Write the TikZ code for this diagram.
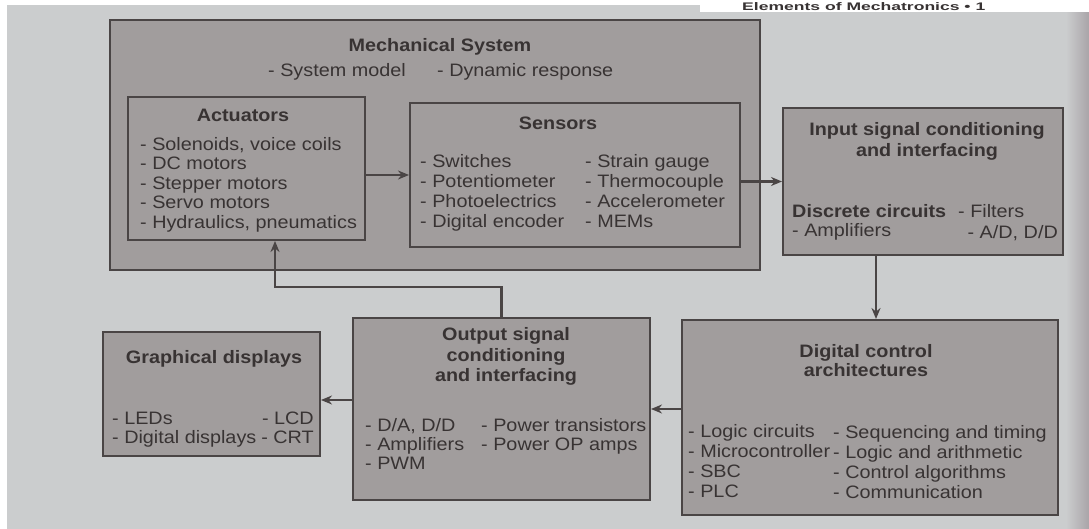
\documentclass[tikz,border=0pt]{standalone}
\usepackage{fontspec}
\setmainfont[FakeStretch=1.1]{Liberation Sans}
\usetikzlibrary{arrows.meta,calc}
\definecolor{paper}{HTML}{CBCDCE}
\definecolor{boxfill}{HTML}{A19D9D}
\definecolor{ink}{HTML}{383333}
\definecolor{edge}{HTML}{4A4545}
\definecolor{shade}{HTML}{A9A4A8}
\begin{document}
\begin{tikzpicture}[x=1pt,y=-1pt,
  panel/.style={draw=edge, line width=2pt, fill=boxfill, inner sep=0pt},
  head/.style={font=\bfseries\fontsize{18}{19.5}\selectfont, text=ink, anchor=base, inner sep=0pt},
  item/.style={font=\fontsize{18}{19.5}\selectfont, text=ink, anchor=base west, inner sep=0pt},
  itemr/.style={item, anchor=base east},
  flow/.style={draw=edge, line width=2.2pt, -{Stealth[length=11pt,width=9pt]}}]

\useasboundingbox (0,0) rectangle (1089,529);
\begin{scope}
\clip (0,0) rectangle (1089,529);
% page background
\fill[paper] (0,0) rectangle (1089,529);
\shade[left color=paper, right color=shade] (1066,12) rectangle (1089,529);
\fill[white] (0,0) rectangle (1089,5);
\fill[white] (700,0) rectangle (1089,12);
\fill[white] (0,0) rectangle (7,529);
% running head of the page
\node[font=\bfseries\fontsize{11}{12}\selectfont, text=ink, anchor=base west, inner sep=0pt] (runhead) at (742,10.5) {\scalebox{1.45}[1]{Elements of Mechatronics \textbullet\ 1}};

% outer mechanical system block
\node[panel, minimum width=650pt, minimum height=250pt] (mech) at (435,145) {};
\node[head] (mechT) at (440,52) {Mechanical System};
\node[item] (mech1) at (268,77) {- System model};
\node[item] (mech2) at (437,77) {- Dynamic response};

% actuators
\node[panel, minimum width=237pt, minimum height=143pt] (act) at (246.5,168.5) {};
\node[head] (actT) at (243,122) {Actuators};
\node[item] (act1) at (140,151) {- Solenoids, voice coils};
\node[item] (act2) at (140,170) {- DC motors};
\node[item] (act3) at (140,189.5) {- Stepper motors};
\node[item] (act4) at (140,209) {- Servo motors};
\node[item] (act5) at (140,228.5) {- Hydraulics, pneumatics};

% sensors
\node[panel, minimum width=330pt, minimum height=144pt] (sen) at (575,175) {};
\node[head] (senT) at (558,130) {Sensors};
\node[item] (sen1) at (420,168) {- Switches};
\node[item] (sen2) at (420,188) {- Potentiometer};
\node[item] (sen3) at (420,208) {- Photoelectrics};
\node[item] (sen4) at (420,228) {- Digital encoder};
\node[item] (sen5) at (585,168) {- Strain gauge};
\node[item] (sen6) at (585,188) {- Thermocouple};
\node[item] (sen7) at (585,208) {- Accelerometer};
\node[item] (sen8) at (585,228) {- MEMs};

% input signal conditioning
\node[panel, minimum width=280pt, minimum height=147pt] (inp) at (923,181.5) {};
\node[head] (inpT1) at (927,136) {Input signal conditioning};
\node[head] (inpT2) at (927,157) {and interfacing};
\node[item, font=\bfseries\fontsize{18}{19.5}\selectfont] (inp1) at (792,218) {Discrete circuits};
\node[item] (inp2) at (958,218) {- Filters};
\node[item] (inp3) at (792,237) {- Amplifiers};
\node[itemr] (inp4) at (1058,239) {- A/D, D/D};

% digital control
\node[panel, minimum width=376pt, minimum height=195pt] (dig) at (870,417.5) {};
\node[head] (digT1) at (866,357) {Digital control};
\node[head] (digT2) at (866,376) {architectures};
\node[item] (dig1) at (688,437) {- Logic circuits};
\node[item] (dig2) at (688,457) {- Microcontroller};
\node[item] (dig3) at (688,477) {- SBC};
\node[item] (dig4) at (688,497) {- PLC};
\node[item] (dig5) at (833,438) {- Sequencing and timing};
\node[item] (dig6) at (833,458) {- Logic and arithmetic};
\node[item] (dig7) at (833,478) {- Control algorithms};
\node[item] (dig8) at (833,498) {- Communication};

% output signal conditioning
\node[panel, minimum width=297pt, minimum height=182pt] (out) at (501.5,409) {};
\node[head] (outT1) at (506,340) {Output signal};
\node[head] (outT2) at (506,361) {conditioning};
\node[head] (outT3) at (506,381) {and interfacing};
\node[item] (out1) at (365,431) {- D/A, D/D};
\node[item] (out2) at (365,450) {- Amplifiers};
\node[item] (out3) at (365,469) {- PWM};
\node[item] (out4) at (481,431) {- Power transistors};
\node[item] (out5) at (481,450) {- Power OP amps};

% graphical displays
\node[panel, minimum width=217pt, minimum height=124pt] (gra) at (211.5,394) {};
\node[head] (graT) at (214,363) {Graphical displays};
\node[item] (gra1) at (112,424) {- LEDs};
\node[itemr] (gra2) at (314,424) {- LCD};
\node[item] (gra3) at (112,443) {- Digital displays};
\node[itemr] (gra4) at (314,443) {- CRT};

% signal flow
\coordinate (fb) at (275,287);
\draw[flow] (act.east |- sen.west) -- (sen.west);
\draw[flow] (sen.east |- inp.west) -- (inp.west);
\draw[flow] ([xshift=6pt]inp.south -| dig.north) -- ([xshift=6pt]dig.north);
\draw[flow] (dig.west |- out.east) -- (out.east);
\draw[flow] ([yshift=-6pt]out.west |- gra.east) -- ([yshift=-6pt]gra.east);
\draw[flow] (out.north) |- (fb) -- (fb |- act.south);
\end{scope}
\end{tikzpicture}
\end{document}
